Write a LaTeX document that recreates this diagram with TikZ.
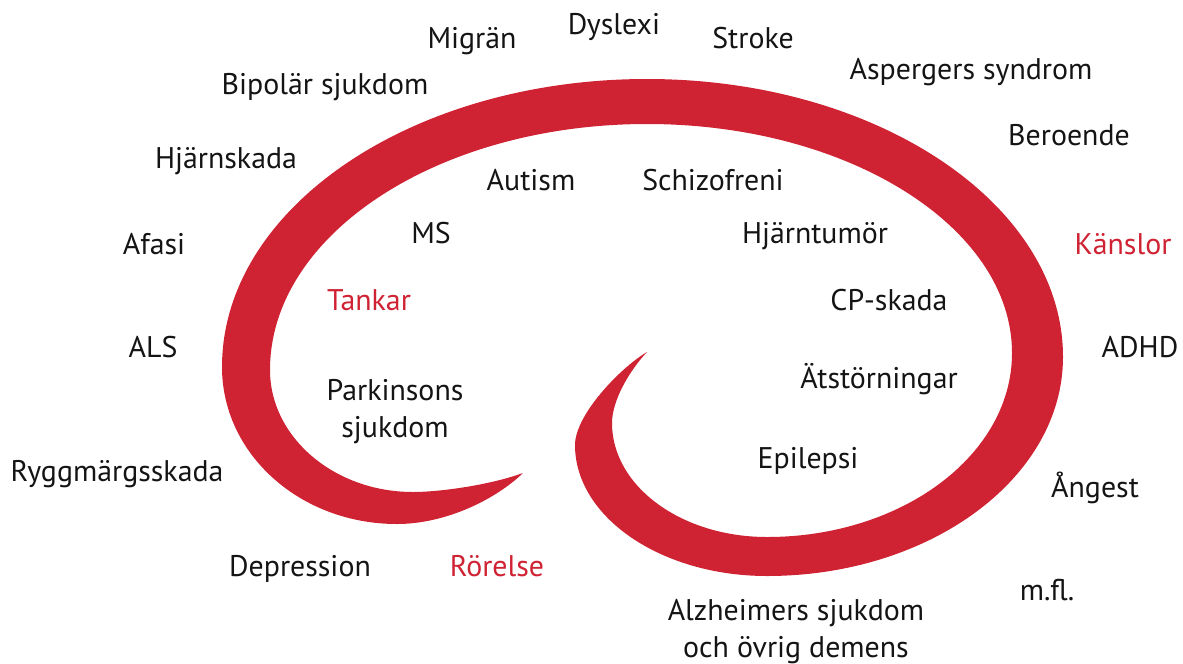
\documentclass[tikz,border=0pt]{standalone}
\usepackage{fontspec}
\setmainfont{PT Sans}
\usepackage{tikz}
\definecolor{myred}{RGB}{207,35,52}
\definecolor{mydark}{RGB}{20,20,20}
\tikzset{
  word/.style={inner sep=0pt, align=center, text=mydark, text depth=0pt,
    font=\fontsize{17}{21}\selectfont},
  redword/.style={word, text=myred},
  swirl/.style={fill=myred, draw=none}
}
\begin{document}
\begin{tikzpicture}[x=0.02cm, y=-0.02cm]
  \useasboundingbox (0,0) rectangle (1183,663);

  % the red swirl
  \fill [swirl] (647,352) .. controls (620,368) and (575,415) .. (575,445)
    .. controls (575,517) and (661,576) .. (767,576)
    .. controls (930,576) and (1063,478) .. (1063,357)
    .. controls (1063,204) and (877,79) .. (647,79)
    .. controls (412,79) and (222,208) .. (222,367)
    .. controls (222,454) and (300,524) .. (397,524)
    .. controls (445,524) and (495,500) .. (523,473)
    .. controls (490,485) and (440,492) .. (413,492)
    .. controls (334,492) and (270,437) .. (270,370)
    .. controls (270,234) and (439,124) .. (647,124)
    .. controls (848,124) and (1012,227) .. (1012,353)
    .. controls (1012,455) and (902,537) .. (767,537)
    .. controls (681,537) and (612,486) .. (612,423)
    .. controls (612,400) and (630,370) .. (647,352) -- cycle;

  % outer ring
  \node [word] (migran) at (472,38) {Migrän};
  \node [word] (dyslexi) at (614,24) {Dyslexi};
  \node [word] (stroke) at (753,38) {Stroke};
  \node [word] (asperger) at (971,69) {Aspergers syndrom};
  \node [word] (bipolar) at (325,84) {Bipolär sjukdom};
  \node [word] (beroende) at (1069,135) {Beroende};
  \node [word] (hjarnskada) at (226,158) {Hjärnskada};
  \node [word] (afasi) at (154,244) {Afasi};
  \node [redword] (kanslor) at (1123,244) {Känslor};
  \node [word] (als) at (153,347) {ALS};
  \node [word] (adhd) at (1140,347) {ADHD};
  \node [word] (rygg) at (117,471) {Ryggmärgsskada};
  \node [word] (angest) at (1095,485) {Ångest};
  \node [word] (depression) at (300,566) {Depression};
  \node [redword] (rorelse) at (497,566) {Rörelse};
  \node [word] (mfl) at (1047,590) {m.fl.};
  \node [word] (alzheimer) at (796,628) {Alzheimers sjukdom\\och övrig demens};

  % inside the swirl
  \node [word] (autism) at (531,180) {Autism};
  \node [word] (schizo) at (713,180) {Schizofreni};
  \node [word] (ms) at (431,233) {MS};
  \node [word] (tumor) at (815,233) {Hjärntumör};
  \node [redword] (tankar) at (369,300) {Tankar};
  \node [word] (cp) at (889,300) {CP-skada};
  \node [word] (atstor) at (879,376) {Ätstörningar};
  \node [word] (parkinson) at (395,408) {Parkinsons\\sjukdom};
  \node [word] (epilepsi) at (808,458) {Epilepsi};
\end{tikzpicture}
\end{document}
